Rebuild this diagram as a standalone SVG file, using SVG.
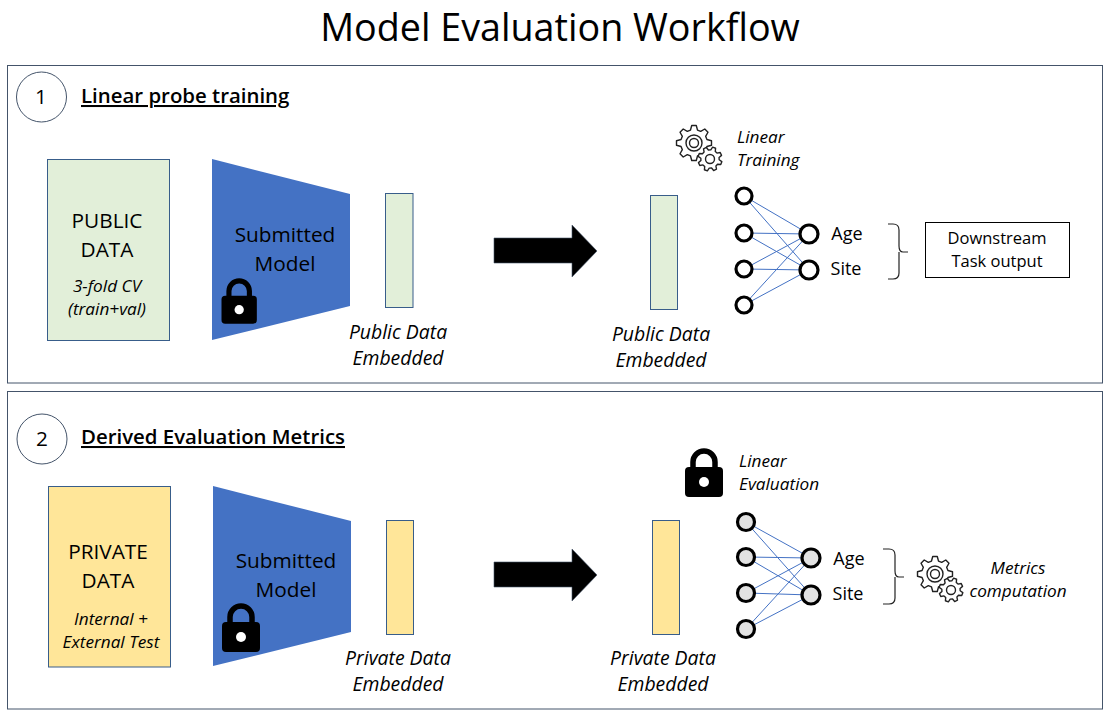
<svg xmlns="http://www.w3.org/2000/svg" xmlns:xlink="http://www.w3.org/1999/xlink" width="1118" height="717" viewBox="0 0 1118 717">
<style>
text{font-family:"Open Sans","Noto Sans","Liberation Sans",sans-serif;fill:#000;text-anchor:middle}
.t20{font-size:20.8px}.t18{font-size:18px}.i17{font-size:19.4px;font-style:italic}.i16{font-size:17.2px;font-style:italic}.n16{font-size:16.5px}
.head{font-size:20.4px;font-weight:600;text-anchor:start;text-decoration:underline}
.panel{fill:#fff;stroke:#44546a;stroke-width:1}
.num{fill:#fff;stroke:#44546a;stroke-width:1}
.data{stroke:#385d8a;stroke-width:1}
.green{fill:#e2efd9}.yellow{fill:#ffe699}
.model{fill:#4472c4}
.n1{fill:#fff;stroke:#000;stroke-width:3.2}
.n2{fill:#e2e2e2;stroke:#000;stroke-width:3.2}
.link{stroke:#4472c4;stroke-width:1;fill:none}
.brace{fill:none;stroke:#222;stroke-width:1.2}
.gear{fill:none;stroke:#222;stroke-width:1.4;stroke-linejoin:round}
</style>
<defs>
<path id="gp" vector-effect="non-scaling-stroke" d="M.74-.2L1-.13L1 .13L.74 .2L.665 .382L.799 .615L.615 .799L.382 .665L.2 .74L.13 1L-.13 1L-.2 .74L-.382 .665L-.615 .799L-.799 .615L-.665 .382L-.74 .2L-1 .13L-1-.13L-.74-.2L-.665-.382L-.799-.615L-.615-.799L-.382-.665L-.2-.74L-.13-1L.13-1L.2-.74L.382-.665L.615-.799L.799-.615L.665-.382Z"/>
<g id="gears" class="gear">
<use xlink:href="#gp" href="#gp" transform="translate(694 143) scale(17.5)"/>
<circle cx="694" cy="143" r="8"/><circle cx="694" cy="143" r="4.5"/>
<use xlink:href="#gp" href="#gp" transform="translate(710 159) rotate(20) scale(12)" fill="#fff"/>
<circle cx="710" cy="159" r="4.5"/>
</g>
<g id="lock">
<rect x="0" y="18" width="38" height="30" rx="4" fill="#000"/>
<path d="M8 21V13a11 11 0 0 1 22 0V21" fill="none" stroke="#000" stroke-width="5.5"/>
<circle cx="19" cy="33" r="5" fill="#fff"/>
</g>
<g id="arrow"><path d="M494 238H572V225L597 251L572 277V263H494Z" fill="#000" stroke="#44546a" stroke-width=".6"/></g>
</defs>
<rect width="1118" height="717" fill="#fff"/>
<text id="title" x="560" y="41" font-size="37.7">Model Evaluation Workflow</text>

<g id="panel-1">
<rect class="panel" x="7.5" y="65.5" width="1095" height="317.5"/>
<circle class="num" cx="41.5" cy="97" r="25"/>
<text class="t20" x="41" y="104">1</text>
<text class="head" x="81" y="103">Linear probe training</text>
</g>
<g id="panel-2">
<rect class="panel" x="7.5" y="391.5" width="1095" height="317.5"/>
<circle class="num" cx="42" cy="439" r="25"/>
<text class="t20" x="42" y="446">2</text>
<text class="head" x="81" y="444">Derived Evaluation Metrics</text>
</g>

<g id="connectors">
<use href="#arrow"/>
<use href="#arrow" transform="translate(0 324)"/>
<path class="link" d="M744 196L809 234M744 196L809 270M744 233L809 234M744 233L809 270M744 269L809 234M744 269L809 270M744 305L809 234M744 305L809 270"/>
<path class="link" d="M746 522L811 558M746 522L811 595M746 557L811 558M746 557L811 595M746 593L811 558M746 593L811 595M746 629L811 558M746 629L811 595"/>
<path class="brace" d="M888 224H893Q899 224 899 230V246Q899 252 903 252H908M899 252V273Q899 279 893 279H888"/>
<path class="brace" d="M883 549H889Q895 549 895 555V571Q895 577 899 577H904M895 577V598Q895 604 889 604H883"/>
</g>

<g id="public-data">
<rect class="data green" x="47.5" y="159.5" width="122" height="181"/>
<text class="t20" x="107" y="228">PUBLIC</text>
<text class="t20" x="107" y="257">DATA</text>
<text class="i16" x="107" y="292">3-fold CV</text>
<text class="i16" x="107" y="315">(train+val)</text>
</g>
<g id="model-1">
<path class="model" d="M212 159L350 194V306L212 340Z"/>
<text class="t20" x="285" y="242">Submitted</text>
<text class="t20" x="285" y="271">Model</text>
<use href="#lock" transform="translate(221.5 279) scale(.93)"/>
</g>
<g id="embed-1">
<rect class="data green" x="385.5" y="193.5" width="27.5" height="114"/>
<text class="i17" x="398" y="339">Public Data</text>
<text class="i17" x="398" y="365">Embedded</text>
</g>
<g id="embed-1b">
<rect class="data green" x="650.5" y="195.5" width="27" height="114"/>
<text class="i17" x="661" y="341">Public Data</text>
<text class="i17" x="661" y="367">Embedded</text>
</g>
<g id="linear-training">
<use href="#gears"/>
<text class="i16" x="737" y="143" style="text-anchor:start">Linear</text>
<text class="i16" x="737" y="166" style="text-anchor:start">Training</text>
</g>
<g id="net-1">
<circle class="n1" cx="744" cy="196" r="8"/><circle class="n1" cx="744" cy="233" r="8"/><circle class="n1" cx="744" cy="269" r="8"/><circle class="n1" cx="744" cy="305" r="8"/>
<circle class="n1" cx="809" cy="234" r="9"/><circle class="n1" cx="809" cy="270" r="9"/>
<text class="t18" x="847" y="240">Age</text>
<text class="t18" x="846" y="275">Site</text>
</g>
<g id="downstream">
<rect x="925.5" y="222.5" width="144" height="55" fill="#fff" stroke="#000"/>
<text class="n16" x="997" y="244">Downstream</text>
<text class="n16" x="997" y="267">Task output</text>
</g>

<g id="private-data">
<rect class="data yellow" x="48.5" y="486.5" width="122" height="180.5"/>
<text class="t20" x="108" y="559">PRIVATE</text>
<text class="t20" x="108" y="588">DATA</text>
<text class="i16" x="111" y="625">Internal +</text>
<text class="i16" x="111" y="648">External Test</text>
</g>
<g id="model-2">
<path class="model" d="M213 486L351 521V632L213 666Z"/>
<text class="t20" x="286" y="568">Submitted</text>
<text class="t20" x="286" y="597">Model</text>
<use href="#lock" transform="translate(222 604)"/>
</g>
<g id="embed-2">
<rect class="data yellow" x="386.5" y="520.5" width="27" height="114"/>
<text class="i17" x="398" y="665">Private Data</text>
<text class="i17" x="398" y="691">Embedded</text>
</g>
<g id="embed-2b">
<rect class="data yellow" x="652.5" y="520.5" width="27" height="114"/>
<text class="i17" x="663" y="665">Private Data</text>
<text class="i17" x="663" y="691">Embedded</text>
</g>
<g id="linear-eval">
<use href="#lock" transform="translate(685 449)"/>
<text class="i16" x="739" y="467" style="text-anchor:start">Linear</text>
<text class="i16" x="739" y="490" style="text-anchor:start">Evaluation</text>
</g>
<g id="net-2">
<circle class="n2" cx="746" cy="522" r="8.5"/><circle class="n2" cx="746" cy="557" r="8.5"/><circle class="n2" cx="746" cy="593" r="8.5"/><circle class="n2" cx="746" cy="629" r="8.5"/>
<circle class="n2" cx="811" cy="558" r="9"/><circle class="n2" cx="811" cy="595" r="9"/>
<text class="t18" x="849" y="565">Age</text>
<text class="t18" x="848" y="600">Site</text>
</g>
<g id="metrics">
<use href="#gears" transform="translate(241 431)"/>
<text class="i16" x="1018" y="574">Metrics</text>
<text class="i16" x="1018" y="597">computation</text>
</g>
</svg>
